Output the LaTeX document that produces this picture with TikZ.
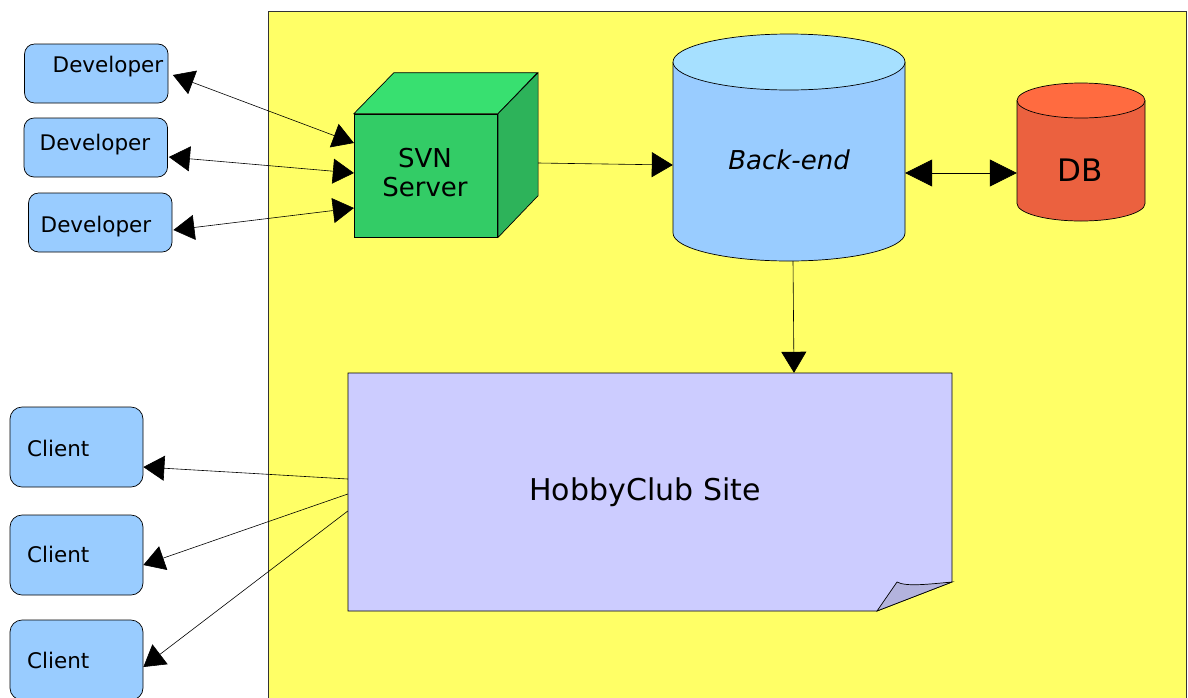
\documentclass[tikz,border=0pt]{standalone}
\usepackage{fontspec}
\setmainfont{DejaVu Sans}
\usetikzlibrary{arrows.meta,calc}
\definecolor{bgyellow}{HTML}{FFFF66}
\definecolor{boxblue}{HTML}{99CCFF}
\definecolor{svnfront}{HTML}{33CC66}
\definecolor{svntop}{HTML}{38E070}
\definecolor{svnside}{HTML}{2DB35A}
\definecolor{betop}{HTML}{A6E0FF}
\definecolor{dbside}{HTML}{EB613F}
\definecolor{dbtop}{HTML}{FF6B40}
\definecolor{sitefill}{HTML}{CCCCFF}
\definecolor{foldfill}{HTML}{B3B3DD}
\begin{document}
\begin{tikzpicture}[x=1pt,y=-1pt,
  devbox/.style={draw=black, line width=0.7pt, fill=boxblue, rounded corners=10pt, inner sep=0pt, minimum width=143.5pt, minimum height=59pt},
  clientbox/.style={draw=black, line width=0.7pt, fill=boxblue, rounded corners=12pt, inner sep=0pt, minimum width=133pt, minimum height=80pt},
  ghost/.style={draw=none, inner sep=0pt},
  conn/.style={line width=0.6pt, -{Triangle[length=21pt,width=25pt]}},
  dconn/.style={line width=0.6pt, {Triangle[length=21pt,width=25pt]}-{Triangle[length=21pt,width=25pt]}},
  bigdconn/.style={line width=0.6pt, {Triangle[length=27pt,width=27pt]}-{Triangle[length=27pt,width=27pt]}},
  smalltxt/.style={inner sep=0pt, font=\fontsize{21.5}{26}\selectfont},
  outl/.style={draw=black, line width=0.7pt},
]
\useasboundingbox (0,0) rectangle (1188,697);
\clip (0,0) rectangle (1188,697);
\fill[white] (0,0) rectangle (1188,697);
% yellow area
\draw[fill=bgyellow, draw=black!80, line width=0.7pt] (268,11) rectangle (1186,730);

% developers
\node[devbox] (dev1) at (96.3,73.5) {};
\node[devbox] (dev2) at (95.8,147.5) {};
\node[devbox] (dev3) at (100.3,222.5) {};
\node[smalltxt] (dev1t) at (108,67) {Developer};
\node[smalltxt] (dev2t) at (95,145) {Developer};
\node[smalltxt] (dev3t) at (96,227) {Developer};

% clients
\node[clientbox] (cl1) at (76.5,447) {};
\node[clientbox] (cl2) at (76.5,555) {};
\node[clientbox] (cl3) at (76.5,660) {};
\node[smalltxt] (cl1t) at (58.3,448) {Client};
\node[smalltxt] (cl2t) at (58.3,554) {Client};
\node[smalltxt] (cl3t) at (58.3,660) {Client};

% SVN cube
\node[draw=black, line width=0.7pt, fill=svnfront, inner sep=0pt, minimum width=143.5pt, minimum height=123pt] (svn) at (426,175.5) {};
\draw[outl, fill=svntop] (svn.north west) -- ++(40,-41) -- ++(143.5,0) -- (svn.north east) -- cycle;
\draw[outl, fill=svnside] (svn.north east) -- ++(40,-41) -- ++(0,123) -- (svn.south east) -- cycle;
\node[inner sep=0pt, align=center, font=\fontsize{26}{29}\selectfont] (svnt) at (425,172.5) {SVN\\Server};

% Back-end cylinder
\node[ghost, minimum width=232pt, minimum height=227pt] (be) at (789,147.5) {};
\fill[boxblue] (673,62) -- (673,233) arc[start angle=180, end angle=360, x radius=116pt, y radius=28pt] -- (905,62) -- cycle;
\draw[outl] (673,62) -- (673,233) arc[start angle=180, end angle=360, x radius=116pt, y radius=28pt] -- (905,62);
\draw[outl, fill=betop] (789,62) ellipse[x radius=116pt, y radius=28pt];
\node[inner sep=0pt, font=\fontsize{26}{30}\selectfont\itshape] (bet) at (789,160) {Back-end};

% DB cylinder
\node[ghost, minimum width=128pt, minimum height=138pt] (db) at (1081,152) {};
\fill[dbside] (1017,100.5) -- (1017,203.5) arc[start angle=180, end angle=360, x radius=64pt, y radius=17.5pt] -- (1145,100.5) -- cycle;
\draw[outl] (1017,100.5) -- (1017,203.5) arc[start angle=180, end angle=360, x radius=64pt, y radius=17.5pt] -- (1145,100.5);
\draw[outl, fill=dbtop] (1081,100.5) ellipse[x radius=64pt, y radius=17.5pt];
\node[inner sep=0pt, font=\fontsize{31}{36}\selectfont] (dbt) at (1080,170) {DB};

% HobbyClub site page with folded corner
\node[ghost, minimum width=604pt, minimum height=238pt] (site) at (650,492) {};
\draw[outl, fill=sitefill] (348,373) -- (952,373) -- (952,582) -- (877,611) -- (348,611) -- cycle;
\draw[outl, fill=foldfill] (877,611) -- (897,582) .. controls (906,587) and (930,584) .. (952,582) -- cycle;
\node[inner sep=0pt, font=\fontsize{30}{36}\selectfont] (sitet) at (645,492) {HobbyClub Site};

% connectors
\draw[dconn] ([xshift=4.5pt,yshift=-1.5pt]dev1.east) -- ([yshift=32.5pt]svn.west);
\draw[dconn] ([xshift=1pt,yshift=-9.5pt]dev2.east) -- ([yshift=2.5pt]svn.west);
\draw[dconn] ([xshift=1pt,yshift=-7.5pt]dev3.east) -- ([yshift=-32.5pt]svn.west);
\draw[conn] ([xshift=40pt,yshift=12.5pt]svn.east) -- ([yshift=-17.5pt]be.west);
\draw[bigdconn] ([yshift=-25.5pt]be.east) -- ([yshift=-21pt]db.west);
\draw[conn] ([xshift=4pt]be.south) -- ([xshift=144pt]site.north);
\draw[conn] ([yshift=13pt]site.west) -- ([yshift=-20pt]cl1.east);
\draw[conn] ([yshift=-2pt]site.west) -- ([yshift=-10pt]cl2.east);
\draw[conn] ([yshift=-19pt]site.west) -- ([yshift=-7pt]cl3.east);
\end{tikzpicture}
\end{document}
